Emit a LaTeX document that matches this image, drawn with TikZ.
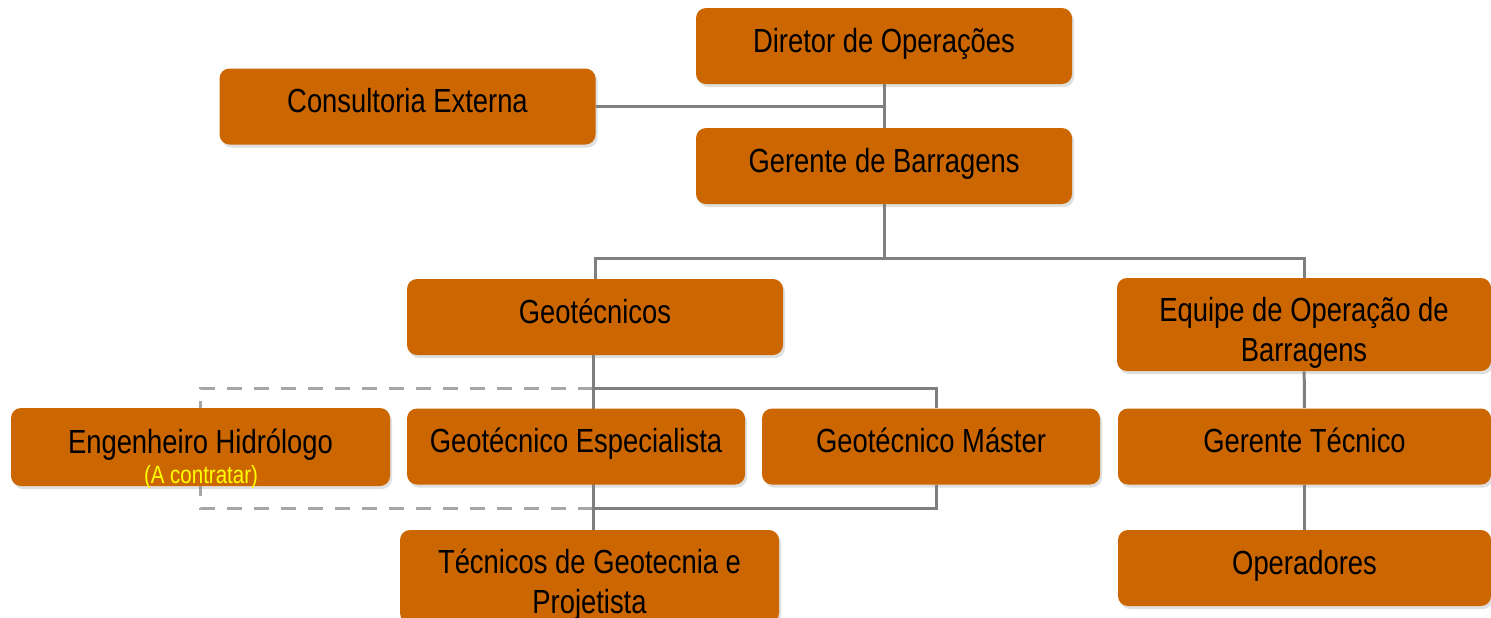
\documentclass[tikz,border=0pt]{standalone}
\usepackage{fontspec}
\setmainfont{Liberation Sans}[FakeStretch=0.82]
\usetikzlibrary{shadows,backgrounds}
\definecolor{boxorange}{HTML}{CC6600}
\definecolor{linegray}{HTML}{7F7F7F}
\definecolor{dashgray}{HTML}{A6A6A6}
\definecolor{noteyellow}{HTML}{FFFF00}

\tikzset{link/.style={draw=linegray, line width=1.5pt}}

\begin{document}
\begin{tikzpicture}[x=0.5pt, y=-0.5pt,
	box/.style={rectangle, rounded corners=5pt, fill=boxorange, minimum width=188pt, minimum height=38pt, inner sep=0pt, align=center, text height=12pt, text depth=6pt, font=\fontsize{16.7}{20}\selectfont, drop shadow={shadow xshift=1pt, shadow yshift=-1.5pt, opacity=0.25}},
	twoline/.style={minimum height=46.5pt, text height=41pt, text depth=4pt},
	dashlink/.style={draw=dashgray, line width=1.5pt, dash pattern=on 7.5pt off 6pt}]
			\useasboundingbox (0,0) rectangle (1491,617);
			
			% Define boxes
			\node[box] (dir) at (884,46) {Diretor de Operações};
			\node[box] (cons) at (407.5,106.5) {Consultoria Externa};
			\node[box] (ger) at (884,166) {Gerente de Barragens};
			\node[box] (geo) at (595,317) {Geotécnicos};
			\node[box, twoline, minimum width=187pt] (equ) at (1304,324.5) {Equipe de Operação de\\Barragens};
			\node[box, minimum width=189.5pt, minimum height=39pt] (hid) at (200.5,447) {Engenheiro Hidrólogo};
			\node[box, minimum width=169pt] (esp) at (576,446.5) {Geotécnico Especialista};
			\node[box, minimum width=169pt] (mas) at (931,446.5) {Geotécnico Máster};
			\node[box, minimum width=186.5pt] (gtec) at (1304.5,446.5) {Gerente Técnico};
			\node[box, twoline, minimum width=189.5pt] (tgeo) at (589.5,576.5) {Técnicos de Geotecnia e\\Projetista};
			\node[box, minimum width=186.5pt] (ope) at (1304.5,568) {Operadores};
			\node[text=noteyellow, inner sep=0pt, font=\fontsize{12.5}{14}\selectfont] (contr) at (201,477) {(A contratar)};
			
			% Junctions of the geotechnical group
			\coordinate (j1) at (884,258);
			\coordinate (j2) at (593,388);
			\coordinate (j3) at (593,508);
			
			\begin{scope}[on background layer]
			% Dashed links to the hydrologist
			\draw[dashlink] (j2) -| (hid.north);
			\draw[dashlink] (j3) -| (hid.south);
			
			% Solid links
			\draw[link] (dir) -- (ger);
			\draw[link] (cons.east) -- (cons.east -| dir.south);
			\draw[link] (ger.south) -- (j1);
			\draw[link] (geo.north) |- (j1) -| (equ.north);
			\draw[link] (geo.south -| j2) -- (j2 |- tgeo.north);
			\draw[link] (j2) -| ([xshift=2.5pt]mas.north);
			\draw[link] (j3) -| ([xshift=2.5pt]mas.south);
			\draw[link] (equ) -- (gtec);
			\draw[link] (gtec) -- (ope);
			\end{scope}
		\end{tikzpicture}
\end{document}
